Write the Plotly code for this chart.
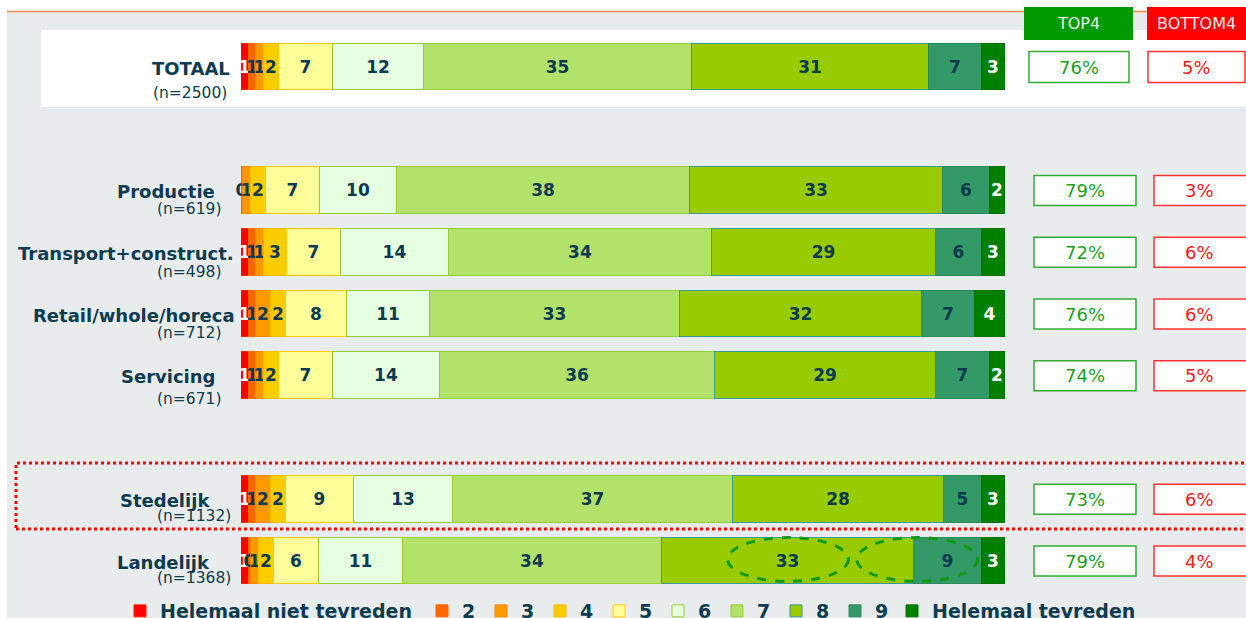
import plotly.graph_objects as go

W, H = 1246, 618

categories = ["TOTAAL", "Productie", "Transport+construct.", "Retail/whole/horeca",
              "Servicing", "Stedelijk", "Landelijk"]
n_labels = ["(n=2500)", "(n=619)", "(n=498)", "(n=712)", "(n=671)", "(n=1132)", "(n=1368)"]

# score distribution per level (1 .. 10), one value per category
s1 = [1, 0, 1, 1, 1, 1, 1]
s2 = [1, 0.3, 1, 1, 1, 1, 0.3]
s3 = [1, 1, 1, 2, 1, 2, 1]
s4 = [2, 2, 3, 2, 2, 2, 2]
s5 = [7, 7, 7, 8, 7, 9, 6]
s6 = [12, 10, 14, 11, 14, 13, 11]
s7 = [35, 38, 34, 33, 36, 37, 34]
s8 = [31, 33, 29, 32, 29, 28, 33]
s9 = [7, 6, 6, 7, 7, 5, 9]
s10 = [3, 2, 3, 4, 2, 3, 3]
top4 = ["76%", "79%", "72%", "76%", "74%", "73%", "79%"]
bottom4 = ["5%", "3%", "6%", "6%", "5%", "6%", "4%"]

level_names = ["Helemaal niet tevreden", "2", "3", "4", "5", "6", "7", "8", "9", "Helemaal tevreden"]
levels = [s1, s2, s3, s4, s5, s6, s7, s8, s9, s10]

# styling
row_pos = [0, 2, 3, 4, 5, 7, 8]
fills = ["#ff0000", "#ff6600", "#ff9900", "#ffcc00", "#ffff99",
         "#e6ffe0", "#b3e26b", "#99cc00", "#339966", "#008000"]
edges = ["#ff2200", "#ff6600", "#ff8800", "#ffbb00", "#ffcc00",
         "#99cc33", "#99cc33", "#3a9a9a", "#2d8a5a", "#007000"]
txtcol = ["#ffffff"] + ["#0b3a52"] * 8 + ["#ffffff"]
NAVY = "#0d3b50"
FONT = "DejaVu Sans"

fig = go.Figure()
for k, (name, vals, fc, ec, tc) in enumerate(zip(level_names, levels, fills, edges, txtcol)):
    lg = "legend" if k == 0 else ("legend3" if k == len(levels) - 1 else "legend2")
    fig.add_trace(go.Bar(
        y=row_pos, x=vals, orientation="h", name=name,
        marker=dict(color=fc, line=dict(color=ec, width=1)),
        width=0.76,
        text=[str(round(v)) for v in vals],
        textposition="inside", insidetextanchor="middle", textangle=0,
        textfont=dict(family=FONT, size=17, color=tc, weight="bold"),
        cliponaxis=False, hoverinfo="skip",
        legend=lg,
    ))

# pixel geometry
row0_px, step_px = 67, 61.75
y_top = -row0_px / step_px
y_bot = (H - row0_px) / step_px

def px(x):
    return x / W

def py(y):
    return 1 - y / H

shapes = [
    dict(type="rect", xref="paper", yref="paper", x0=px(7), x1=1, y0=0, y1=py(12),
         fillcolor="#e9eced", line=dict(width=0), layer="below"),
    dict(type="line", xref="paper", yref="paper", x0=px(7), x1=1, y0=py(11.5), y1=py(11.5),
         line=dict(color="#f08a4b", width=1.5), layer="below"),
    dict(type="rect", xref="paper", yref="paper", x0=px(41), x1=1, y0=py(107), y1=py(30),
         fillcolor="#ffffff", line=dict(width=0), layer="below"),
    # header boxes
    dict(type="rect", xref="paper", yref="paper", x0=px(1024), x1=px(1133), y0=py(40), y1=py(7),
         fillcolor="#009900", line=dict(width=0)),
    dict(type="rect", xref="paper", yref="paper", x0=px(1147), x1=px(1252), y0=py(40), y1=py(7),
         fillcolor="#ff0000", line=dict(width=0)),
    # dotted highlight
    dict(type="rect", xref="paper", yref="paper", x0=px(16), x1=px(1260), y0=py(529), y1=py(463),
         line=dict(color="#ff0000", width=3, dash="dot"), fillcolor="rgba(0,0,0,0)"),
    # dashed ellipses
    dict(type="circle", xref="x", yref="y", x0=63.7, x1=79.5, y0=7.62, y1=8.33,
         line=dict(color="#119911", width=3, dash="dash")),
    dict(type="circle", xref="x", yref="y", x0=80.6, x1=96.4, y0=7.62, y1=8.33,
         line=dict(color="#119911", width=3, dash="dash")),
]

annotations = [
    dict(text="TOP4", xref="paper", yref="paper", x=px(1078.5), y=py(23.5), showarrow=False,
         xanchor="center", yanchor="middle",
         font=dict(family=FONT, size=16, color="#e3f3e3")),
    dict(text="BOTTOM4", xref="paper", yref="paper", x=px(1155), y=py(23.5), xanchor="left",
         yanchor="middle", showarrow=False, font=dict(family=FONT, size=16, color="#ffe6e6")),
]

name_right = [232, 217, 236, 237, 218, 212, 212]
n_right = [229, 224, 224, 224, 224, 233, 233]
n_shift = [26, 18, 20, 19, 23, 17, 17]

for i, (cat, nl, t4, b4, rp) in enumerate(zip(categories, n_labels, top4, bottom4, row_pos)):
    annotations.append(dict(text=f"<b>{cat}</b>", xref="paper", yref="y", x=px(name_right[i]), y=rp,
                            xanchor="right", yanchor="middle", yshift=-1, showarrow=False,
                            font=dict(family=FONT, size=18, color=NAVY)))
    annotations.append(dict(text=nl, xref="paper", yref="y", x=px(n_right[i]), y=rp,
                            xanchor="right", yanchor="middle", yshift=-n_shift[i], showarrow=False,
                            font=dict(family=FONT, size=15.5, color=NAVY)))
    if i == 0:
        tx0, tx1, bx0, bx1, hh = 1029, 1129, 1148, 1245, 15.5
    else:
        tx0, tx1, bx0, bx1, hh = 1034, 1136, 1154, 1252, 15
    yc = rp
    dy = hh / step_px
    shapes.append(dict(type="rect", xref="paper", yref="y", x0=px(tx0), x1=px(tx1),
                       y0=yc - dy, y1=yc + dy, fillcolor="#ffffff",
                       line=dict(color="#33aa33", width=1.5)))
    shapes.append(dict(type="rect", xref="paper", yref="y", x0=px(bx0), x1=px(bx1),
                       y0=yc - dy, y1=yc + dy, fillcolor="#ffffff",
                       line=dict(color="#ff3333", width=1.5)))
    annotations.append(dict(text=t4, xref="paper", yref="y", x=px((tx0 + tx1) / 2), y=yc,
                            xanchor="center", yanchor="middle",
                            showarrow=False, font=dict(family=FONT, size=18, color="#1f9f1f")))
    annotations.append(dict(text=b4, xref="paper", yref="y", x=px((bx0 + 1245) / 2), y=yc,
                            xanchor="center", yanchor="middle",
                            showarrow=False, font=dict(family=FONT, size=18, color="#ff1a1a")))

legend_font = dict(family=FONT, size=19, color=NAVY, weight="bold")
common = dict(orientation="h", traceorder="normal", y=py(611), xanchor="left",
              yanchor="middle", bgcolor="rgba(0,0,0,0)", itemwidth=30, font=legend_font)
fig.update_layout(
    width=W, height=H,
    margin=dict(l=0, r=0, t=0, b=0, autoexpand=False),
    paper_bgcolor="#ffffff", plot_bgcolor="rgba(0,0,0,0)",
    barmode="stack", barnorm="percent", bargap=0,
    uniformtext=dict(minsize=17, mode="show"),
    xaxis=dict(domain=[px(241), px(1005)], range=[0, 100], visible=False, fixedrange=True),
    yaxis=dict(domain=[0, 1], range=[y_bot, y_top], visible=False, fixedrange=True),
    showlegend=True,
    legend=dict(x=px(120), **common),
    legend2=dict(x=px(422), entrywidth=14, entrywidthmode="pixels", **common),
    legend3=dict(x=px(892), **common),
    shapes=shapes, annotations=annotations,
)

fig.write_html("out.html", config={"displayModeBar": False},
               post_script="document.body.style.margin='0';")
